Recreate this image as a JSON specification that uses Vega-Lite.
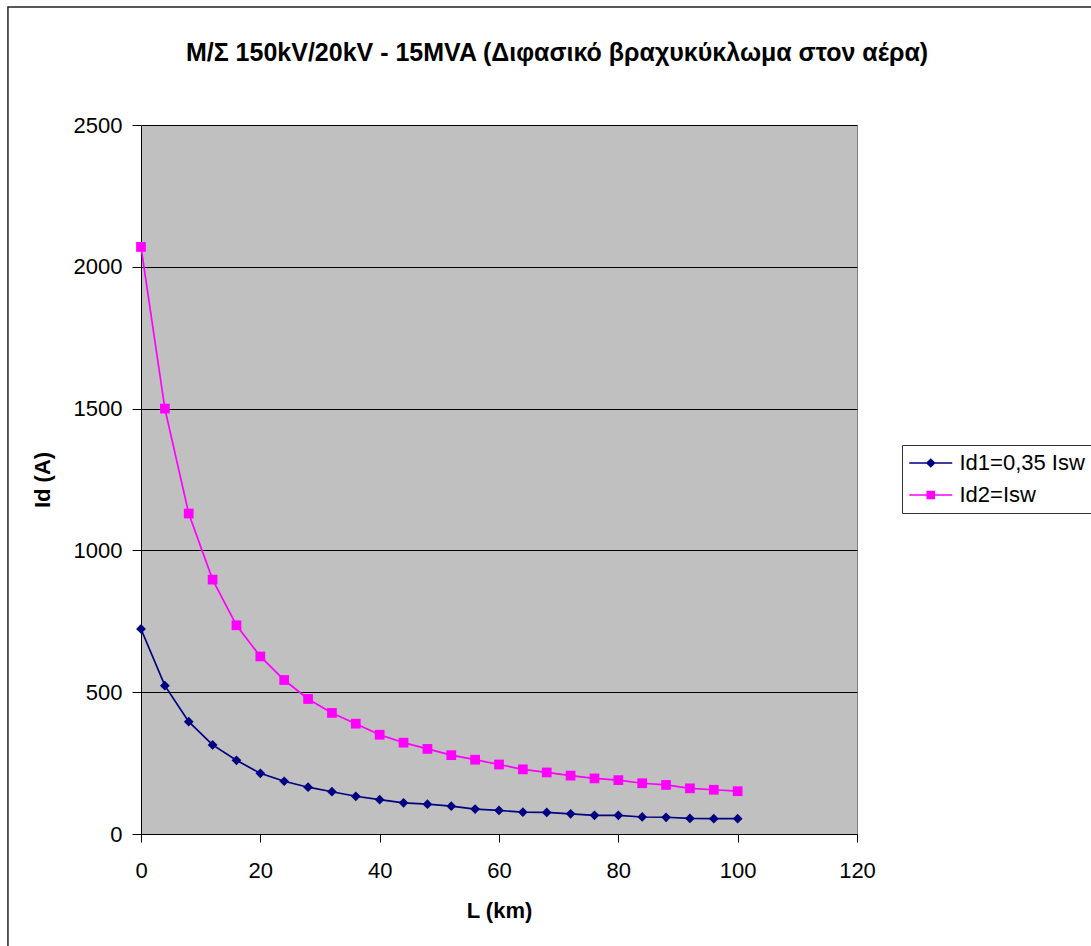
{
  "$schema": "https://vega.github.io/schema/vega-lite/v6.json",
  "width": 716,
  "height": 709,
  "autosize": "none",
  "padding": {"left": 141, "top": 125, "right": 234, "bottom": 112},
  "background": "white",
  "title": {
    "text": "Μ/Σ 150kV/20kV - 15MVA (Διφασικό βραχυκύκλωμα στον αέρα)",
    "font": "Liberation Sans",
    "fontSize": 25,
    "fontWeight": "bold",
    "color": "#000000",
    "anchor": "middle",
    "frame": "group",
    "baseline": "alphabetic",
    "dx": 58,
    "offset": -80
  },
  "data": {
    "values": [
      {"L": 0, "Id": 723, "s": "Id1=0,35 Isw"},
      {"L": 4, "Id": 523, "s": "Id1=0,35 Isw"},
      {"L": 8, "Id": 396, "s": "Id1=0,35 Isw"},
      {"L": 12, "Id": 314, "s": "Id1=0,35 Isw"},
      {"L": 16, "Id": 260, "s": "Id1=0,35 Isw"},
      {"L": 20, "Id": 214, "s": "Id1=0,35 Isw"},
      {"L": 24, "Id": 186, "s": "Id1=0,35 Isw"},
      {"L": 28, "Id": 165, "s": "Id1=0,35 Isw"},
      {"L": 32, "Id": 149, "s": "Id1=0,35 Isw"},
      {"L": 36, "Id": 133, "s": "Id1=0,35 Isw"},
      {"L": 40, "Id": 121, "s": "Id1=0,35 Isw"},
      {"L": 44, "Id": 110, "s": "Id1=0,35 Isw"},
      {"L": 48, "Id": 105, "s": "Id1=0,35 Isw"},
      {"L": 52, "Id": 98, "s": "Id1=0,35 Isw"},
      {"L": 56, "Id": 88, "s": "Id1=0,35 Isw"},
      {"L": 60, "Id": 83, "s": "Id1=0,35 Isw"},
      {"L": 64, "Id": 77, "s": "Id1=0,35 Isw"},
      {"L": 68, "Id": 76, "s": "Id1=0,35 Isw"},
      {"L": 72, "Id": 71, "s": "Id1=0,35 Isw"},
      {"L": 76, "Id": 66, "s": "Id1=0,35 Isw"},
      {"L": 80, "Id": 66, "s": "Id1=0,35 Isw"},
      {"L": 84, "Id": 60, "s": "Id1=0,35 Isw"},
      {"L": 88, "Id": 59, "s": "Id1=0,35 Isw"},
      {"L": 92, "Id": 55, "s": "Id1=0,35 Isw"},
      {"L": 96, "Id": 54, "s": "Id1=0,35 Isw"},
      {"L": 100, "Id": 54, "s": "Id1=0,35 Isw"},
      {"L": 0, "Id": 2070, "s": "Id2=Isw"},
      {"L": 4, "Id": 1500, "s": "Id2=Isw"},
      {"L": 8, "Id": 1130, "s": "Id2=Isw"},
      {"L": 12, "Id": 897, "s": "Id2=Isw"},
      {"L": 16, "Id": 736, "s": "Id2=Isw"},
      {"L": 20, "Id": 626, "s": "Id2=Isw"},
      {"L": 24, "Id": 543, "s": "Id2=Isw"},
      {"L": 28, "Id": 476, "s": "Id2=Isw"},
      {"L": 32, "Id": 427, "s": "Id2=Isw"},
      {"L": 36, "Id": 389, "s": "Id2=Isw"},
      {"L": 40, "Id": 350, "s": "Id2=Isw"},
      {"L": 44, "Id": 322, "s": "Id2=Isw"},
      {"L": 48, "Id": 300, "s": "Id2=Isw"},
      {"L": 52, "Id": 278, "s": "Id2=Isw"},
      {"L": 56, "Id": 262, "s": "Id2=Isw"},
      {"L": 60, "Id": 245, "s": "Id2=Isw"},
      {"L": 64, "Id": 228, "s": "Id2=Isw"},
      {"L": 68, "Id": 217, "s": "Id2=Isw"},
      {"L": 72, "Id": 206, "s": "Id2=Isw"},
      {"L": 76, "Id": 196, "s": "Id2=Isw"},
      {"L": 80, "Id": 190, "s": "Id2=Isw"},
      {"L": 84, "Id": 179, "s": "Id2=Isw"},
      {"L": 88, "Id": 173, "s": "Id2=Isw"},
      {"L": 92, "Id": 161, "s": "Id2=Isw"},
      {"L": 96, "Id": 156, "s": "Id2=Isw"},
      {"L": 100, "Id": 151, "s": "Id2=Isw"}
    ]
  },
  "layer": [
    {
      "data": {"values": [{}]},
      "mark": {"type": "rect", "clip": false, "fill": null, "stroke": "#222222", "strokeWidth": 1.5},
      "encoding": {
        "x": {"datum": -22.3, "type": "quantitative"},
        "x2": {"datum": 200},
        "y": {"datum": 2916, "type": "quantitative"},
        "y2": {"datum": -1000}
      }
    },
    {
      "mark": {"type": "line", "strokeWidth": 1.7},
      "encoding": {
        "x": {
          "field": "L",
          "type": "quantitative",
          "scale": {"domain": [0, 120], "nice": false},
          "axis": {
            "title": "L (km)",
            "values": [0, 20, 40, 60, 80, 100, 120],
            "grid": false,
            "tickSize": 8,
            "labelPadding": 18,
            "titlePadding": 19,
            "labelFlush": false,
            "labelOverlap": false
          }
        },
        "y": {
          "field": "Id",
          "type": "quantitative",
          "scale": {"domain": [0, 2500], "nice": false},
          "axis": {
            "title": "Id (A)",
            "format": "d",
            "values": [0, 500, 1000, 1500, 2000, 2500],
            "grid": true,
            "tickSize": 9,
            "labelPadding": 10,
            "titlePadding": 19
          }
        },
        "color": {
          "field": "s",
          "type": "nominal",
          "scale": {"domain": ["Id1=0,35 Isw", "Id2=Isw"], "range": ["#000080", "#FF00FF"]},
          "legend": {
            "title": null,
            "orient": "none",
            "legendX": 761,
            "legendY": 320,
            "padding": 7,
            "strokeColor": "#333333",
            "labelFont": "Liberation Sans",
            "labelFontSize": 22,
            "labelColor": "#000000",
            "symbolSize": 400,
            "symbolOpacity": 1,
            "symbolStrokeWidth": 1.5,
            "symbolOffset": 10.75,
            "labelOffset": 17.75,
            "rowPadding": 10
          }
        }
      }
    },
    {
      "description": "Legend key glyphs: a line with the series marker, drawn at zero size in the plot.",
      "mark": {"type": "point", "filled": true, "opacity": 1, "size": 0, "strokeWidth": 0},
      "encoding": {
        "x": {"field": "L", "type": "quantitative"},
        "y": {"field": "Id", "type": "quantitative"},
        "color": {"field": "s", "type": "nominal"},
        "shape": {
          "field": "s",
          "type": "nominal",
          "scale": {
            "domain": ["Id1=0,35 Isw", "Id2=Isw"],
            "range": [
              "M-2.15,0H2.15M0,-0.38L0.38,0L0,0.38L-0.38,0Z",
              "M-2.15,0H2.15M-0.35,-0.35H0.35V0.35H-0.35Z"
            ]
          },
          "legend": null
        }
      }
    },
    {
      "transform": [{"filter": "datum.s === 'Id1=0,35 Isw'"}],
      "mark": {"type": "point", "shape": "diamond", "filled": true, "opacity": 1, "size": 95, "strokeWidth": 0, "color": "#000080"},
      "encoding": {
        "x": {"field": "L", "type": "quantitative"},
        "y": {"field": "Id", "type": "quantitative"}
      }
    },
    {
      "transform": [{"filter": "datum.s === 'Id2=Isw'"}],
      "mark": {"type": "point", "shape": "square", "filled": true, "opacity": 1, "size": 95, "strokeWidth": 0, "color": "#FF00FF"},
      "encoding": {
        "x": {"field": "L", "type": "quantitative"},
        "y": {"field": "Id", "type": "quantitative"}
      }
    }
  ],
  "config": {
    "font": "Liberation Sans",
    "view": {"fill": "#C0C0C0", "stroke": "#808080", "strokeWidth": 1},
    "axis": {
      "labelFont": "Liberation Sans",
      "labelFontSize": 22,
      "labelColor": "#000000",
      "titleFont": "Liberation Sans",
      "titleFontSize": 22,
      "titleFontWeight": "bold",
      "titleColor": "#000000",
      "domainColor": "#000000",
      "tickColor": "#000000",
      "gridColor": "#000000",
      "gridOpacity": 1,
      "gridWidth": 1
    }
  }
}
